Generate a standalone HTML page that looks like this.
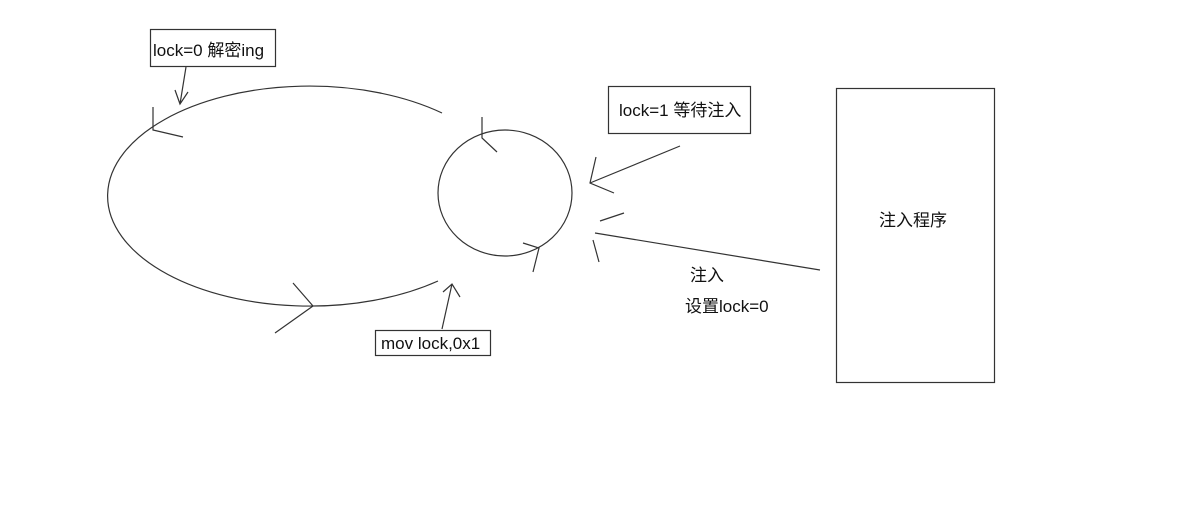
<!DOCTYPE html>
<html><head><meta charset="utf-8"><style>
body{margin:0;background:#fff;width:1200px;height:500px;overflow:hidden}
text{font-family:"Liberation Sans","Noto Sans CJK SC",sans-serif;font-size:17px;fill:#111}
</style></head><body>
<svg width="1200" height="500" viewBox="0 0 1200 500" xmlns="http://www.w3.org/2000/svg">
<g fill="none" stroke="#333" stroke-width="1.2">
<path d="M442,113 A202,110 0 1 0 438,281"/>
<ellipse cx="505" cy="193" rx="67" ry="63"/>
<rect x="150.5" y="29.5" width="125" height="37"/>
<rect x="608.5" y="86.5" width="142" height="47"/>
<rect x="836.5" y="88.5" width="158" height="294"/>
<rect x="375.5" y="330.5" width="115" height="25"/>
<path d="M186,67 L180,104 M175,90 L180,104 L188,92"/>
<path d="M153,107 L153,130 L183,137"/>
<path d="M293,283 L313,306 L275,333"/>
<path d="M442,329 L452,284 M443,292 L452,284 L460,297"/>
<path d="M482,117 L482,138 L497,152"/>
<path d="M523,243 L539,248 L533,272"/>
<path d="M680,146 L590,183 M596,157 L590,183 L614,193"/>
<path d="M600,221 L624,213"/>
<path d="M595,233 L820,270"/>
<path d="M593,240 L599,262"/>
</g>
<text x="153" y="56">lock=0 解密ing</text>
<text x="619" y="116">lock=1 等待注入</text>
<text x="381" y="349">mov lock,0x1</text>
<text x="879" y="226">注入程序</text>
<text x="690" y="281">注入</text>
<text x="685" y="312">设置lock=0</text>
</svg>
</body></html>
